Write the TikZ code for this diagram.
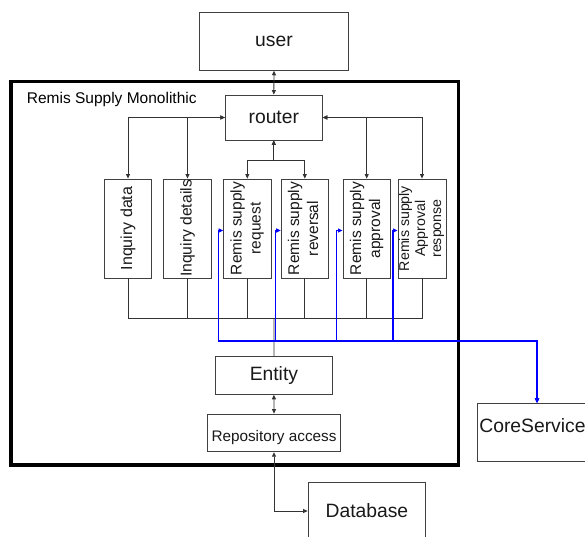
\documentclass[tikz,border=0pt]{standalone}
\usepackage{fontspec}
\setmainfont{Liberation Sans}
\usetikzlibrary{arrows.meta}
\begin{document}
\begin{tikzpicture}[x=1pt,y=-1pt,
  >={Triangle[length=4.5pt,width=4pt]},
  box/.style={draw=black!75, line width=0.9pt, inner sep=0pt, fill=white, text=black!90},
  bigtext/.style={font=\fontsize{19.3}{22}\selectfont},
  vbox/.style={box, minimum width=47.4pt, minimum height=99pt, font=\fontsize{15.5}{19}\selectfont},
  conn/.style={draw=black!80, line width=0.8pt},
  blueconn/.style={draw=blue, line width=1.3pt}
]
\clip (0,0) rectangle (585,536);
\fill[white] (0,0) rectangle (585,536);

% frame
\node (frame) [draw=black, line width=3.3pt, minimum width=447.5pt, minimum height=383.3pt, inner sep=0pt] at (234.75,273.35) {};
\node (title) [anchor=base west, inner sep=0pt, font=\fontsize{15.5}{18}\selectfont] at (26.7,103.3) {Remis Supply Monolithic};

% main boxes
\node (user) [box, bigtext, minimum width=149.4pt, minimum height=58pt] at (274,41.3) {user};
\node (router) [box, bigtext, minimum width=97pt, minimum height=45pt] at (273.8,117.5) {router};

\node (idata) [vbox, font=\fontsize{16}{19}\selectfont] at (128,228.5) {\rotatebox{90}{Inquiry data}};
\node (idet) [vbox, font=\fontsize{15.7}{19}\selectfont] at (187.5,228.5) {\rotatebox{90}{Inquiry details}};
\node (req) [vbox] at (247.3,228.5) {\rotatebox{90}{\begin{tabular}{@{}c@{}}Remis supply\\request\end{tabular}}};
\node (rev) [vbox] at (304.8,228.5) {\rotatebox{90}{\begin{tabular}{@{}c@{}}Remis supply\\reversal\end{tabular}}};
\node (appr) [vbox] at (366.7,228.5) {\rotatebox{90}{\begin{tabular}{@{}c@{}}Remis supply\\approval\end{tabular}}};
\node (resp) [vbox, font=\fontsize{14.2}{16}\selectfont] at (422,228.5) {\rotatebox{90}{\begin{tabular}{@{}c@{}}Remis supply\\Approval\\response\end{tabular}}};

\node (ent) [box, bigtext, minimum width=117.7pt, minimum height=37.6pt] at (273.9,375.5) {Entity};
\node (repo) [box, font=\fontsize{15.3}{18}\selectfont, text height=20.8pt, minimum width=133.4pt, minimum height=37.7pt] at (274,432.9) {Repository access};
\node (db) [box, bigtext, minimum width=117.7pt, minimum height=56.6pt] at (366.9,511) {Database};
\node (cs) [box, bigtext, text depth=14pt, text width=118.3pt, align=left, minimum height=58.4pt] at (537,432.5) {\hspace*{1.5pt}CoreService};

% coordinates
\coordinate (bus) at (274,318);
\coordinate (bb) at (537,341);

% black connectors
\draw[conn,<->] (user.south) -- (router.north);
\draw[conn,<->] (router.west) -| (idata.north);
\draw[conn,<->] (router.west) -| (idet.north);
\draw[conn,<->] (router.east) -| (appr.north);
\draw[conn,<->] (router.east) -| (resp.north);
\draw[conn,<->] (router.south) -- ++(0,20) -| (req.north);
\draw[conn,<->] (router.south) -- ++(0,20) -| (rev.north);

\draw[conn] (idata.south) |- (bus);
\draw[conn] (idet.south) |- (bus);
\draw[conn] (req.south) |- (bus);
\draw[conn] (rev.south) |- (bus);
\draw[conn] (appr.south) |- (bus);
\draw[conn] (resp.south) |- (bus);
\draw[conn] (bus) -- (ent.north);

\draw[conn,<->] (ent.south) -- (repo.north);
\draw[conn,<->] (repo.south) |- (db.west);

% blue connectors
\draw[blueconn,<->] ([yshift=-2pt]req.west) -- ++(-5,0) |- (bb) -- (cs.north);
\draw[blueconn,<->] ([yshift=-2pt]rev.west) -- ++(-5,0) |- (bb) -- (cs.north);
\draw[blueconn,<->] ([yshift=-2pt]appr.west) -- ++(-6,0) |- (bb) -- (cs.north);
\draw[blueconn,<->] ([yshift=-2pt]resp.west) -- ++(-4.5,0) |- (bb) -- (cs.north);
\end{tikzpicture}
\end{document}
